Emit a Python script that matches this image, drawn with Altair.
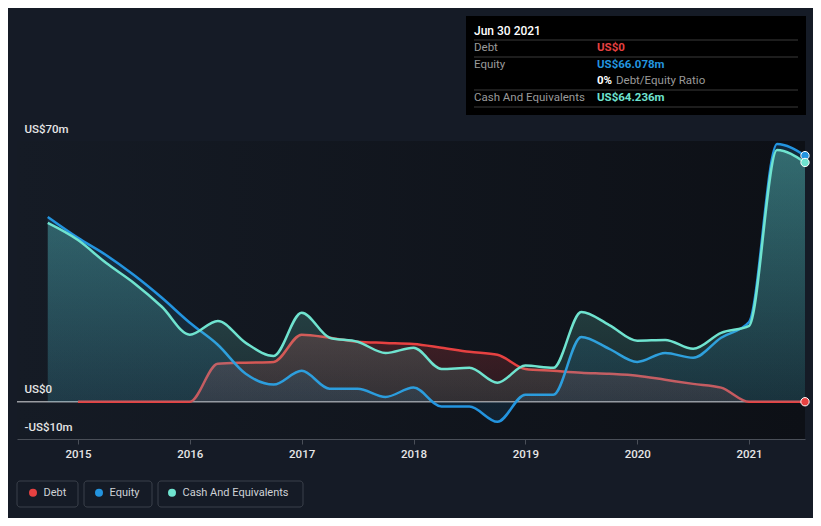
import altair as alt
import pandas as pd

# ---- data (US$ millions) ----
eq_cash_t = [2014.73, 2015.0, 2015.25, 2015.5, 2015.75, 2016.0, 2016.25, 2016.5, 2016.75,
             2017.0, 2017.25, 2017.5, 2017.75, 2018.0, 2018.25, 2018.5, 2018.75,
             2019.0, 2019.25, 2019.5, 2019.75, 2020.0, 2020.25, 2020.5, 2020.75,
             2021.0, 2021.25, 2021.5]
equity = [49.6, 44.0, 39.4, 34.0, 27.9, 21.2, 15.3, 7.5, 4.6,
          8.3, 3.5, 3.5, 1.3, 3.8, -1.3, -1.3, -5.4,
          1.9, 1.9, 17.4, 14.2, 10.7, 13.1, 11.8, 17.2,
          21.4, 69.2, 66.078]
cash = [48.0, 43.4, 37.3, 31.9, 25.5, 18.0, 21.7, 15.8, 12.3,
        23.9, 17.2, 16.1, 13.1, 14.5, 8.8, 9.1, 5.1,
        9.7, 9.1, 24.1, 20.6, 16.4, 16.6, 14.2, 18.5,
        20.4, 67.6, 64.236]
debt_t = [2015.0, 2015.25, 2015.5, 2015.75, 2016.0, 2016.25, 2016.5, 2016.75,
          2017.0, 2017.25, 2017.5, 2017.75, 2018.0, 2018.25, 2018.5, 2018.75,
          2019.0, 2019.25, 2019.5, 2019.75, 2020.0, 2020.25, 2020.5, 2020.75,
          2021.0, 2021.25, 2021.5]
debt = [0, 0, 0, 0, 0, 10.2, 10.5, 10.7,
        18.0, 17.2, 16.1, 15.8, 15.5, 14.5, 13.4, 12.6,
        8.8, 8.3, 7.8, 7.5, 7.0, 5.9, 4.8, 3.8,
        0, 0, 0]

series_names = ["Debt", "Equity", "Cash And Equivalents"]
series_colors = ["#e64141", "#2394df", "#6fe3cf"]
series_rgb = ["230,65,65", "35,148,223", "111,227,207"]
area_alpha = [(0.22, 0.12), (0.18, 0.10), (0.36, 0.10)]
x_ticks = [2015, 2016, 2017, 2018, 2019, 2020, 2021]
y_ticks = [-10, 0, 20, 40, 60, 70]
y_labeled = [-10, 0, 70]

tip_date = "Jun 30 2021"
tip_labels = ["Debt", "Equity", "Cash And Equivalents"]
tip_values = ["US$0", "US$66.078m", "US$64.236m"]
tip_ratio = "0%"
tip_ratio_label = "Debt/Equity Ratio"

rows = []
for t, v in zip(debt_t, debt):
    rows.append({"t": t, "v": v, "series": "Debt"})
for t, v in zip(eq_cash_t, equity):
    rows.append({"t": t, "v": v, "series": "Equity"})
for t, v in zip(eq_cash_t, cash):
    rows.append({"t": t, "v": v, "series": "Cash And Equivalents"})
df = pd.DataFrame(rows)

W, H = 788, 298
FONT = "Roboto"

xscale = alt.Scale(domain=[2014.455, 2021.5], nice=False, zero=False)
yscale = alt.Scale(domain=[-10, 70], nice=False, zero=True)

xenc = alt.X("t:Q", scale=xscale,
             axis=alt.Axis(values=x_ticks, format="d", title=None, grid=False, zindex=1,
                           domainColor="#4a4f58", tickColor="#4a4f58", tickSize=5,
                           labelColor="#e6e6e6", labelFontSize=11.5, labelFontWeight=500,
                           labelPadding=4, labelFont=FONT))
labeled_str = "[" + ",".join(str(v) for v in y_labeled) + "]"
label_expr = (f"indexof({labeled_str}, datum.value) < 0 ? '' : (datum.value == 0 ? 'US$0' : "
              "(datum.value < 0 ? '-US$' + abs(datum.value) + 'm' : 'US$' + datum.value + 'm'))")
yenc = alt.Y("v:Q", scale=yscale,
             axis=alt.Axis(values=y_ticks, title=None, domain=False, ticks=False, zindex=1,
                           labelExpr=label_expr, labelAlign="left", labelBaseline="bottom",
                           labelPadding=-7, labelOffset=-7, labelColor="#e6e6e6",
                           labelOverlap=False, labelBound=False, labelFlush=False,
                           labelFontSize=11.5, labelFontWeight=500, labelFont=FONT,
                           gridColor={"condition": {"test": "datum.value == 70", "value": "#4a4f58"},
                                      "value": "rgba(70,78,92,0.35)"},
                           gridWidth=1))

one = alt.Data(values=[{}])

bg = alt.Chart(one).mark_rect(
    color=alt.Gradient(gradient="linear", x1=0, x2=1, y1=0, y2=0,
                       stops=[alt.GradientStop(color="#151b25", offset=0),
                              alt.GradientStop(color="#0d1016", offset=1)])
).encode(x=alt.value(0), x2=alt.value(W), y=alt.value(0), y2=alt.value(H))

def grad(rgb, a0, a1):
    return alt.Gradient(gradient="linear", x1=0, x2=0, y1=0, y2=1,
                        stops=[alt.GradientStop(color=f"rgba({rgb},{a0})", offset=0),
                               alt.GradientStop(color=f"rgba({rgb},{a1})", offset=1)])

zero = alt.Chart(one).mark_rule(color="#9a9ca1", strokeWidth=1.5).encode(y=alt.datum(0))

series_layers = []
for name, col, rgb, (a0, a1) in zip(series_names, series_colors, series_rgb, area_alpha):
    base = alt.Chart(df).transform_filter(alt.datum.series == name)
    series_layers.append(base.mark_area(interpolate="monotone", color=grad(rgb, a0, a1)).encode(x=xenc, y=yenc))
    series_layers.append(base.mark_line(interpolate="monotone", strokeWidth=2.5, color=col).encode(x=xenc, y=yenc))

ends = alt.Chart(df).transform_filter(alt.datum.t == 2021.5).mark_circle(
    size=70, opacity=1, stroke="white", strokeWidth=1
).encode(
    x=xenc, y=yenc,
    fill=alt.Fill("series:N", scale=alt.Scale(domain=series_names, range=series_colors),
                  legend=alt.Legend(title=None, orient="none", legendX=10.5, legendY=346,
                                    direction="horizontal", symbolType="circle", symbolSize=64,
                                    symbolStrokeWidth=0, labelColor="#cfd2d6", labelFontSize=11,
                                    labelFont=FONT, columnPadding=27, labelOffset=5, padding=0)),
)

# legend item frames (chart pixel space, outside plot area)
frames = []
for fx0, fx1 in [(0, 61), (67, 135), (141, 286)]:
    frames.append(alt.Chart(one).mark_rect(fill="#151b26", stroke="#3a404a", strokeWidth=1,
                                           cornerRadius=3).encode(
        x=alt.value(fx0), x2=alt.value(fx1), y=alt.value(340), y2=alt.value(366)))

# tooltip box (in plot coordinates)
BX0, BX1, BY0, BY1 = 449, 789, -125, -26
box = alt.Chart(one).mark_rect(color="#000000").encode(
    x=alt.value(BX0), x2=alt.value(BX1), y=alt.value(BY0), y2=alt.value(BY1))
seps = []
for yy in [-101, -84, -51, -34]:
    seps.append(alt.Chart(one).mark_rule(color="#3b3b3b", strokeWidth=1).encode(
        x=alt.value(457), x2=alt.value(781), y=alt.value(yy)))
texts = [alt.Chart(one).mark_text(text=tip_date, align="left", baseline="middle", font=FONT,
                                  fontSize=12, fontWeight=500, color="#ffffff").encode(
    x=alt.value(457), y=alt.value(-110))]
row_y = [-93, -76, -43]
for lab, val, col, yy in zip(tip_labels, tip_values, series_colors, row_y):
    texts.append(alt.Chart(one).mark_text(text=lab, align="left", baseline="middle", font=FONT,
                                          fontSize=11.5, color="#9a9a9a").encode(
        x=alt.value(457), y=alt.value(yy)))
    texts.append(alt.Chart(one).mark_text(text=val, align="left", baseline="middle", font=FONT,
                                          fontSize=11.5, fontWeight="bold", color=col).encode(
        x=alt.value(580), y=alt.value(yy)))
texts.append(alt.Chart(one).mark_text(text=tip_ratio, align="left", baseline="middle", font=FONT,
                                      fontSize=11.5, fontWeight="bold", color="#ffffff").encode(
    x=alt.value(580), y=alt.value(-60)))
texts.append(alt.Chart(one).mark_text(text=tip_ratio_label, align="left", baseline="middle", font=FONT,
                                      fontSize=11.5, color="#9a9a9a").encode(
    x=alt.value(599), y=alt.value(-60)))

chart = alt.layer(bg, zero, *series_layers, ends, *frames, box, *seps, *texts).properties(
    width=W, height=H,
    background="#151b26",
    padding={"left": 9, "top": 133, "right": 8, "bottom": 79},
    autosize=alt.AutoSizeParams(type="none"),
).configure_view(stroke=None)

chart.save("out.html", embed_options={"renderer": "svg", "actions": False})
